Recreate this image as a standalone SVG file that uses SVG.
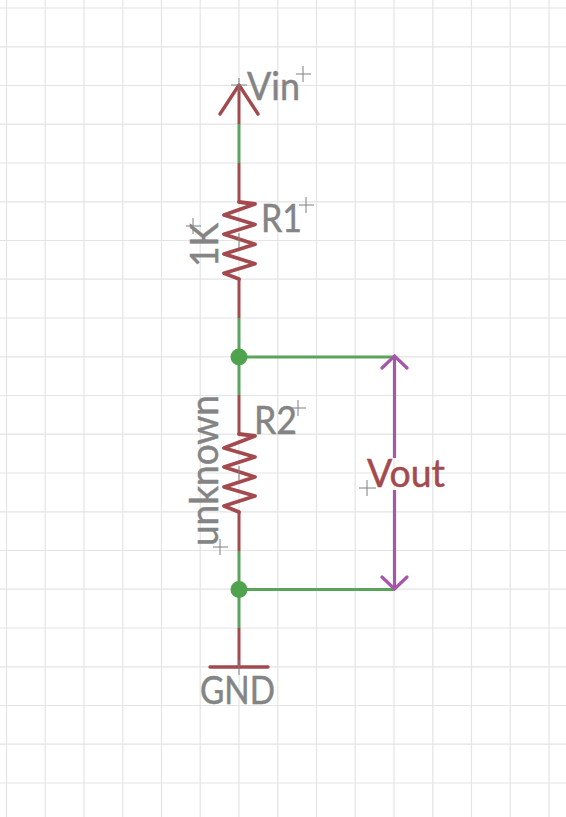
<svg xmlns="http://www.w3.org/2000/svg" width="566" height="817" viewBox="0 0 566 817">
<style>
.g{stroke:#e4e4e4;stroke-width:1.2;fill:none}
.w{stroke:#5aa35a;stroke-width:3;fill:none}
.r{stroke:#a34a4f;stroke-width:3.4;fill:none;stroke-linecap:round;stroke-linejoin:round}
.rw{stroke:#a34a4f;stroke-width:3;fill:none}
.z{stroke:#a34a4f;stroke-width:3.8;fill:none;stroke-linecap:round;stroke-linejoin:round}
.m{stroke:#a557a8;stroke-width:3.2;fill:none}
.c{stroke:#7e7e7e;stroke-width:1;fill:none}
.t{font-family:Lato,"Open Sans",sans-serif;font-size:39px;fill:#848484;stroke:#848484;stroke-width:.5}
.d{fill:#4fa34f}
</style>
<rect width="566" height="817" fill="#ffffff"/>
<g id="grid">
<path class="g" d="M6.5 0V817M45.2 0V817M84 0V817M122.8 0V817M161.5 0V817M200.2 0V817M239 0V817M277.8 0V817M316.5 0V817M355.2 0V817M394 0V817M432.8 0V817M471.5 0V817M510.2 0V817M549 0V817"/>
<path class="g" d="M0 8H566M0 46.8H566M0 85.5H566M0 124.2H566M0 163H566M0 201.8H566M0 240.5H566M0 279.2H566M0 318H566M0 356.8H566M0 395.5H566M0 434.2H566M0 473H566M0 511.8H566M0 550.5H566M0 589.2H566M0 628H566M0 666.8H566M0 705.5H566M0 744.2H566M0 783H566"/>
</g>
<g id="connectors">
<path class="w" d="M239 124V163M239 318V395M239 551V628M239 357H394M239 589.5H394"/>
</g>
<g id="vin">
<path class="rw" d="M239 85V124"/>
<path class="r" d="M220 114L239 85L258 114"/>
<path class="c" d="M231 85H247M239 78V92M296 74H311M303 66V82"/>
<text class="t" x="247" y="100" textLength="53" lengthAdjust="spacingAndGlyphs">Vin</text>
</g>
<g id="r1">
<path class="rw" d="M239 163V202M239 279V318"/>
<path class="z" d="M239 202L255 204L224 215L255 224.500L224 234.300L255 244.300L224 254L255 263.700L224 273.300L239 279"/>
<path class="c" d="M299 205H314M306 197V213M186 226H201M193 218V234M239 233V248"/>
<text class="t" x="261" y="232" textLength="41" lengthAdjust="spacingAndGlyphs">R1</text>
<text class="t" transform="translate(218 267) rotate(-90)" textLength="44" lengthAdjust="spacingAndGlyphs">1K</text>
</g>
<g id="r2">
<path class="rw" d="M239 395V434M239 512V551"/>
<path class="z" d="M239 434L255 436L224 448L255 457L224 467L255 477L224 487L255 496L224 506L239 512"/>
<path class="c" d="M291 408H306M298 400V416M213 547H228M220 539V555M239 466V481"/>
<text class="t" x="254" y="434" textLength="43" lengthAdjust="spacingAndGlyphs">R2</text>
<text class="t" transform="translate(218 546) rotate(-90)" textLength="151" lengthAdjust="spacingAndGlyphs">unknown</text>
</g>
<g id="j1"><circle class="d" cx="239" cy="357" r="8.500"/></g>
<g id="j2"><circle class="d" cx="239" cy="589.500" r="8.500"/></g>
<g id="vout">
<path class="m" d="M394.500 358V458M394.500 490V589"/>
<path class="m" d="M382 368L394.500 356L407 368M382 577L394.500 589L407 577" stroke-linecap="round"/>
<path class="c" d="M359 488H376M367 480V496"/>
<text class="t" x="367" y="487" textLength="78" lengthAdjust="spacingAndGlyphs" style="fill:#a34a4f;stroke:#a34a4f">Vout</text>
</g>
<g id="gnd">
<path class="rw" d="M239 628V667"/>
<path class="r" d="M210 667H268"/>
<path class="c" d="M239 660V675"/>
<text class="t" x="200" y="704" textLength="75" lengthAdjust="spacingAndGlyphs">GND</text>
</g>
</svg>
